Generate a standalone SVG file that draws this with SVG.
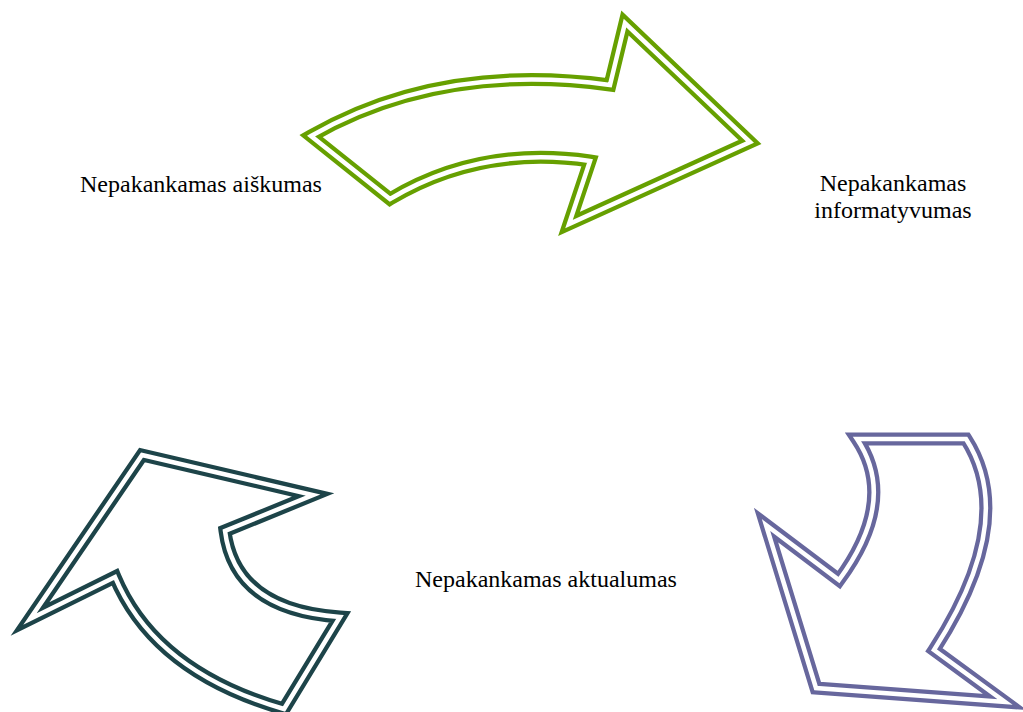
<svg xmlns="http://www.w3.org/2000/svg" width="1023" height="712" viewBox="0 0 1023 712">
<style>
.outer{fill:none;stroke-width:13;stroke-linejoin:miter;stroke-miterlimit:20}
.inner{fill:none;stroke:#fff;stroke-width:4.5;stroke-linejoin:miter;stroke-miterlimit:20}
.lbl{font-family:"Liberation Serif","Times New Roman",serif;font-size:24px;fill:#000}
</style>
<defs>
<path id="pGreen" d="M311,136 Q440,62 610,85 L625,23 L750,142 L569,224 L590,161 Q480,145 390,199 Z"/>
<path id="pTeal" d="M142,455 L313,495 L225,531 Q235,610 340,617 L284,709 Q155,672 115,577 L30,619 Z"/>
<path id="pPurple" d="M857,439 L966,439 Q1018,520 934,650 L1005,702 L816,688 L766,525 L839,580 Q898,500 857,439 Z"/>
</defs>
<rect width="1023" height="712" fill="#fff"/>
<g id="connectors">
<g id="arrow-top">
<use href="#pGreen" class="outer" stroke="#66a000"/>
<use href="#pGreen" class="inner"/>
</g>
<g id="arrow-right">
<use href="#pPurple" class="outer" stroke="#67679d"/>
<use href="#pPurple" class="inner"/>
</g>
<g id="arrow-left">
<use href="#pTeal" class="outer" stroke="#1d4449"/>
<use href="#pTeal" class="inner"/>
</g>
</g>
<g id="node-aiskumas"><text class="lbl" x="80" y="192">Nepakankamas aiškumas</text></g>
<g id="node-informatyvumas"><text class="lbl" text-anchor="middle"><tspan x="893" y="191">Nepakankamas</tspan><tspan x="893" y="218">informatyvumas</tspan></text></g>
<g id="node-aktualumas"><text class="lbl" x="415" y="587">Nepakankamas aktualumas</text></g>
</svg>
